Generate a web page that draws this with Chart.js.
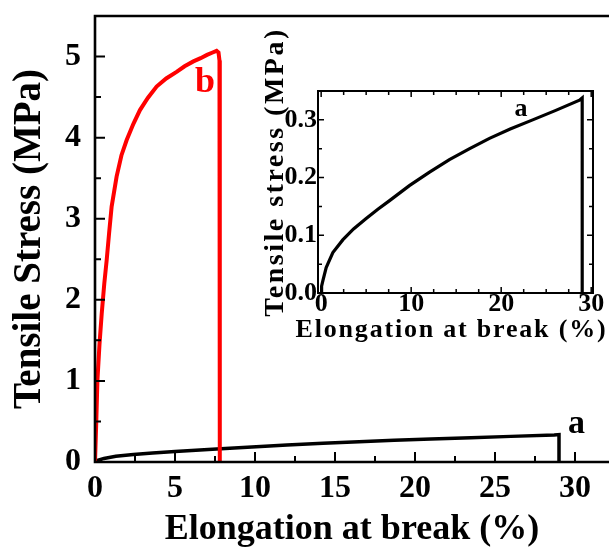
<!DOCTYPE html>
<html>
<head>
<meta charset="utf-8">
<script src="https://cdn.jsdelivr.net/npm/chart.js@4.4.1/dist/chart.umd.min.js"></script>
<style>
  body { margin: 0; background: #fff; }
  #wrap { position: relative; width: 609px; height: 548px; overflow: hidden; }
  #main { position: absolute; left: 0; top: 0; }
  #inset { position: absolute; left: 250px; top: 0; }
</style>
</head>
<body>
<div id="wrap">
  <canvas id="main" width="609" height="548"></canvas>
  <canvas id="inset" width="359" height="348"></canvas>
</div>
<script>
const aStrain = [0, 0.05, 0.2, 0.56, 1.3, 2.4, 3.6, 5.0, 6.3, 7.6, 9.8, 12, 14.25, 16.5, 18.7, 21, 23.5, 26, 28.7, 29.0, 29.0]
const aStress = [0, 0.012, 0.022, 0.044, 0.07, 0.092, 0.111, 0.129, 0.145, 0.16, 0.186, 0.209, 0.231, 0.25, 0.268, 0.284, 0.3, 0.316, 0.334, 0.338, 0]
// curva b
const bStrain = [0, 0.08, 0.15, 0.28, 0.42, 0.58, 0.73, 0.88, 1.04, 1.35, 1.65, 1.98, 2.4, 2.81, 3.3, 3.85, 4.45, 5.1, 5.6, 6.15, 6.6, 7.0, 7.35, 7.6, 7.72, 7.78, 7.8]
const bStress = [0, 0.5, 1.0, 1.45, 1.83, 2.2, 2.49, 2.82, 3.15, 3.52, 3.78, 3.97, 4.17, 4.34, 4.49, 4.63, 4.73, 4.81, 4.88, 4.94, 4.98, 5.02, 5.05, 5.07, 5.05, 4.95, 0]

// ejes
const mainXTicks = [0, 5, 10, 15, 20, 25, 30]
const mainXMinor = [2.5, 7.5, 12.5, 17.5, 22.5, 27.5]
const mainYTicks = [0, 1, 2, 3, 4, 5]
const mainYMinor = [0.5, 1.5, 2.5, 3.5, 4.5]
const insetXTicks = [0, 10, 20, 30]
const insetXMinor = [2.5, 5, 7.5, 12.5, 15, 17.5, 22.5, 25, 27.5]
const insetYTicks = [0, 0.1, 0.2, 0.3]
const insetYLabels = ['0.0', '0.1', '0.2', '0.3']
const insetYMinor = [0.05, 0.15, 0.25]

const toXY = (xs, ys) => xs.map((x, i) => ({x: x, y: ys[i]}))
const SERIF = "'Liberation Serif', 'Times New Roman', serif"

Chart.defaults.font.family = SERIF
Chart.defaults.font.weight = 'bold'
Chart.defaults.color = '#000'

//Marco con ticks hacia dentro
const framePlugin = {
    id: 'frame',
    afterDraw(chart, args, o) {
        const {ctx, chartArea: {left, right, top, bottom}, scales: {x, y}} = chart
        ctx.save()
        ctx.strokeStyle = '#000'
        ctx.lineWidth = o.width
        ctx.beginPath()
        ctx.moveTo(left, top); ctx.lineTo(left, bottom)
        ctx.moveTo(left - o.width / 2, bottom); ctx.lineTo(o.right ? right + o.width / 2 : chart.width, bottom)
        ctx.moveTo(left - o.width / 2, top); ctx.lineTo(o.right ? right + o.width / 2 : chart.width, top)
        if (o.right) { ctx.moveTo(right, top); ctx.lineTo(right, bottom) }
        ctx.stroke()
        ctx.lineWidth = o.tickWidth
        ctx.beginPath()
        const xt = (vals, len) => vals.forEach(v => {
            const p = x.getPixelForValue(v)
            ctx.moveTo(p, bottom); ctx.lineTo(p, bottom - len)
            if (o.top) { ctx.moveTo(p, top); ctx.lineTo(p, top + len) }
        })
        const yt = (vals, len) => vals.forEach(v => {
            const p = y.getPixelForValue(v)
            ctx.moveTo(left, p); ctx.lineTo(left + len, p)
            if (o.right) { ctx.moveTo(right, p); ctx.lineTo(right - len, p) }
        })
        xt(o.xMajor, o.major); xt(o.xMinor, o.minor)
        yt(o.yMajor, o.major); yt(o.yMinor, o.minor)
        ctx.stroke()
        ctx.restore()
    }
}

//Letras de las curvas y titulos con espaciado
const tagsPlugin = {
    id: 'tags',
    afterDraw(chart, args, o) {
        const {ctx, scales: {x, y}, chartArea} = chart
        ctx.save()
        ;(o.items || []).forEach(t => {
            ctx.font = `bold ${t.size}px ${SERIF}`
            ctx.fillStyle = t.color
            ctx.textAlign = 'center'
            ctx.textBaseline = 'middle'
            ctx.fillText(t.text, x.getPixelForValue(t.x), y.getPixelForValue(t.y))
        })
        ;(o.titles || []).forEach(t => {
            ctx.save()
            ctx.font = `bold ${t.size}px ${SERIF}`
            ctx.fillStyle = '#000'
            ctx.letterSpacing = t.spacing + 'px'
            ctx.textAlign = 'center'
            ctx.textBaseline = 'alphabetic'
            const cx = (chartArea.left + chartArea.right) / 2
            const cy = (chartArea.top + chartArea.bottom) / 2
            if (t.rotate) {
                ctx.translate(chartArea.left + t.dx, cy + t.dy)
                ctx.rotate(-Math.PI / 2)
            } else {
                ctx.translate(cx + t.dx, chartArea.bottom + t.dy)
            }
            ctx.fillText(t.text, 0, 0)
            ctx.restore()
        })
        ctx.restore()
    }
}

const fixTicks = (vals) => (axis) => { axis.ticks = vals.map(v => ({value: v})) }
// tamaño fijo del eje, sin relleno extra por las etiquetas
const fixSize = (w, h) => (s) => {
    if (w) s.width = w
    if (h) s.height = h
    s.paddingTop = 0; s.paddingBottom = 0; s.paddingLeft = 0; s.paddingRight = 0
}

//Grafico principal
new Chart(document.getElementById('main'), {
    type: 'scatter',
    data: {
        datasets: [{
            label: 'b',
            data: toXY(bStrain, bStress),
            showLine: true,
            borderColor: '#ff0000',
            borderWidth: 4,
            pointRadius: 0,
            tension: 0,
        }, {
            label: 'a',
            data: toXY(aStrain, aStress),
            showLine: true,
            borderColor: '#000',
            borderWidth: 3.5,
            pointRadius: 0,
            tension: 0,
        }]
    },
    options: {
        responsive: false,
        animation: false,
        layout: { padding: { top: 16, right: 0, left: 0, bottom: 0 } },
        plugins: {
            legend: { display: false },
            tooltip: { enabled: false },
            frame: { width: 2.6, tickWidth: 2, major: 10, minor: 6, top: false, right: false,
                xMajor: mainXTicks, xMinor: mainXMinor, yMajor: mainYTicks, yMinor: mainYMinor },
            tags: { items: [
                { text: 'b', x: 6.875, y: 4.68, size: 36, color: '#ff0000' },
                { text: 'a', x: 30.1, y: 0.46, size: 34, color: '#000' },
            ] }
        },
        scales: {
            x: {
                type: 'linear', min: 0, max: 32.125,
                afterFit: fixSize(0, 86),
                afterBuildTicks: fixTicks(mainXTicks),
                grid: { display: false, drawTicks: false },
                border: { display: false },
                ticks: { font: { size: 32 }, padding: 8, maxRotation: 0, autoSkip: false },
                title: { display: true, text: 'Elongation at break (%)', font: { size: 36, lineHeight: 1 }, padding: { top: 0, bottom: 0 } }
            },
            y: {
                type: 'linear', min: 0, max: 5.5,
                afterFit: fixSize(95, 0),
                afterBuildTicks: fixTicks(mainYTicks),
                grid: { display: false, drawTicks: false },
                border: { display: false },
                ticks: { font: { size: 32 }, padding: 14 },
                title: { display: true, text: 'Tensile Stress (MPa)', font: { size: 39, lineHeight: 1 }, padding: { top: 10, bottom: 0 } }
            }
        }
    },
    plugins: [framePlugin, tagsPlugin]
})

//Grafico pequeño (inset)
new Chart(document.getElementById('inset'), {
    type: 'scatter',
    data: {
        datasets: [{
            label: 'a',
            data: toXY(aStrain, aStress),
            showLine: true,
            borderColor: '#000',
            borderWidth: 3.2,
            pointRadius: 0,
            tension: 0,
        }]
    },
    options: {
        responsive: false,
        animation: false,
        layout: { padding: { top: 91, right: 16, left: 0, bottom: 0 } },
        plugins: {
            legend: { display: false },
            tooltip: { enabled: false },
            frame: { width: 2, tickWidth: 1.5, major: 6, minor: 4, top: true, right: true,
                xMajor: insetXTicks, xMinor: insetXMinor, yMajor: insetYTicks, yMinor: insetYMinor },
            tags: {
                items: [{ text: 'a', x: 22.2, y: 0.319, size: 26, color: '#000' }],
                titles: [
                    { text: 'Elongation at break (%)', size: 26, spacing: 1.8, dx: -4, dy: 44 },
                    { text: 'Tensile stress (MPa)', size: 28, spacing: 2.5, rotate: true, dx: -35, dy: -20 }
                ]
            }
        },
        scales: {
            x: {
                type: 'linear', min: -0.35, max: 30.2,
                afterFit: fixSize(0, 55),
                afterBuildTicks: fixTicks(insetXTicks),
                grid: { display: false, drawTicks: false },
                border: { display: false },
                ticks: { font: { size: 26, lineHeight: 1 }, padding: -2, maxRotation: 0, autoSkip: false }
            },
            y: {
                type: 'linear', min: 0, max: 0.35,
                afterFit: fixSize(68, 0),
                afterBuildTicks: fixTicks(insetYTicks),
                grid: { display: false, drawTicks: false },
                border: { display: false },
                ticks: { font: { size: 26 }, padding: 1, callback: (v, i) => insetYLabels[i] }
            }
        }
    },
    plugins: [framePlugin, tagsPlugin]
})
</script>
</body>
</html>
